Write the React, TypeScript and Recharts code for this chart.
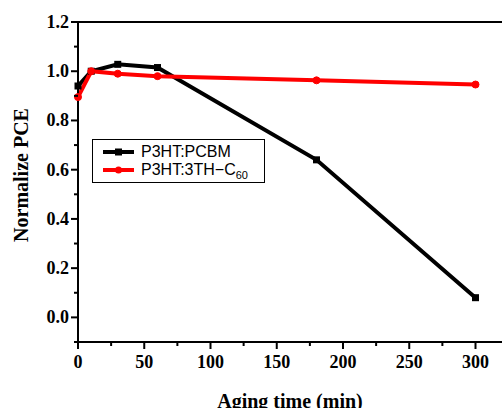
import React from 'react';
import { LineChart, Line, XAxis, YAxis, ReferenceLine } from 'recharts';

const times = [0, 10, 30, 60, 180, 300];
const pcbm = [0.94, 1.0, 1.028, 1.015, 0.64, 0.08];
const thc60 = [0.895, 1.0, 0.99, 0.98, 0.963, 0.946];
const xTicks = [0, 25, 50, 75, 100, 125, 150, 175, 200, 225, 250, 275, 300];
const yTicks = [-0.1, 0, 0.1, 0.2, 0.3, 0.4, 0.5, 0.6, 0.7, 0.8, 0.9, 1.0, 1.1, 1.2];
const seriesNames = ['P3HT:PCBM', 'P3HT:3TH\u2212C'];

const data = times.map((t, i) => ({ t, pcbm: pcbm[i], thc60: thc60[i] }));

const serif = '"Liberation Serif", "Times New Roman", serif';
const sans = '"Liberation Sans", Arial, sans-serif';

const XTick = (props: any) => {
  const { x, y, payload } = props;
  const v = payload.value;
  const major = v % 50 === 0;
  return (
    <g>
      <line x1={x} x2={x} y1={y} y2={y + (major ? 7 : 4)} stroke="#000" strokeWidth={2} />
      {major && (
        <text x={x} y={y + 26} textAnchor="middle" fontFamily={serif} fontWeight="bold" fontSize={18} fill="#000">
          {v}
        </text>
      )}
    </g>
  );
};

const YTick = (props: any) => {
  const { x, y, payload } = props;
  const v = payload.value;
  const k = Math.round(v * 10);
  const major = k >= 0 && k % 2 === 0;
  return (
    <g>
      <line x1={x} x2={x - (major ? 7 : 4)} y1={y} y2={y} stroke="#000" strokeWidth={2} />
      {major && (
        <text x={x - 9} y={y + 6} textAnchor="end" fontFamily={serif} fontWeight="bold" fontSize={18} fill="#000">
          {(k / 10).toFixed(1)}
        </text>
      )}
    </g>
  );
};

const YLabel = (props: any) => {
  const { viewBox } = props;
  const cx = 21;
  const cy = viewBox.y + viewBox.height / 2 - 7;
  return (
    <text
      x={cx}
      y={cy}
      transform={`rotate(-90, ${cx}, ${cy})`}
      textAnchor="middle"
      dominantBaseline="central"
      fontFamily={serif}
      fontWeight="bold"
      fontSize={20}
      fill="#000"
    >
      Normalize PCE
    </text>
  );
};

const SquareDot = (props: any) => {
  const { cx, cy, index } = props;
  if (cx == null || cy == null) return <g key={index} />;
  return <rect key={index} x={cx - 3.5} y={cy - 3.5} width={7} height={7} fill="#000" />;
};

const LegendBox = () => (
  <div
    style={{
      position: 'absolute',
      left: 92,
      top: 139,
      border: '1px solid #000',
      background: '#fff',
      width: 173,
      height: 44,
      boxSizing: 'border-box',
      fontFamily: sans,
      fontSize: 16,
      color: '#000',
      paddingTop: 3,
    }}
  >
    {[
      { name: seriesNames[0], color: '#000', square: true, sub: '' },
      { name: seriesNames[1], color: '#ff0000', square: false, sub: '60' },
    ].map((it) => (
      <div key={it.name} style={{ display: 'flex', alignItems: 'center', height: 18, lineHeight: '18px', whiteSpace: 'nowrap' }}>
        <svg width={48} height={18} style={{ flex: 'none' }}>
          <line x1={10} x2={41} y1={9} y2={9} stroke={it.color} strokeWidth={4} />
          {it.square ? (
            <rect x={22} y={5.5} width={7} height={7} fill={it.color} />
          ) : (
            <circle cx={25.5} cy={9} r={3.5} fill={it.color} />
          )}
        </svg>
        <span>
          {it.name}
          {it.sub && (
            <span style={{ fontSize: 11, position: 'relative', top: 4 }}>{it.sub}</span>
          )}
        </span>
      </div>
    ))}
  </div>
);

export default function App() {
  return (
    <div style={{ position: 'absolute', left: 0, top: 0, width: 502, height: 408, background: '#fff', overflow: 'hidden' }}>
      <LineChart width={502} height={408} data={data} margin={{ top: 22, right: 0, bottom: 0, left: 0 }}>
        <XAxis
          dataKey="t"
          type="number"
          domain={[0, 320]}
          ticks={xTicks}
          interval={0}
          tickSize={0}
          tickMargin={0}
          tickLine={false}
          tick={<XTick />}
          axisLine={{ stroke: '#000', strokeWidth: 2 }}
          height={66}
          label={{
            value: 'Aging time (min)',
            position: 'insideBottom',
            offset: 0,
            dy: 0,
            style: { fontFamily: serif, fontWeight: 'bold', fontSize: 20, fill: '#000' },
          }}
        />
        <YAxis
          type="number"
          domain={[-0.1, 1.2]}
          ticks={yTicks}
          interval={0}
          tickSize={0}
          tickMargin={0}
          tickLine={false}
          tick={<YTick />}
          axisLine={{ stroke: '#000', strokeWidth: 2 }}
          width={78}
          allowDataOverflow
          label={<YLabel />}
        />
        <ReferenceLine y={1.2} stroke="#000" strokeWidth={2} />
        <Line
          dataKey="pcbm"
          name={seriesNames[0]}
          stroke="#000"
          strokeWidth={4}
          dot={<SquareDot />}
          isAnimationActive={false}
        />
        <Line
          dataKey="thc60"
          name={seriesNames[1]}
          stroke="#ff0000"
          strokeWidth={4}
          dot={{ r: 3.5, fill: '#ff0000', stroke: '#ff0000', strokeWidth: 1 }}
          isAnimationActive={false}
        />
      </LineChart>
      <LegendBox />
    </div>
  );
}
